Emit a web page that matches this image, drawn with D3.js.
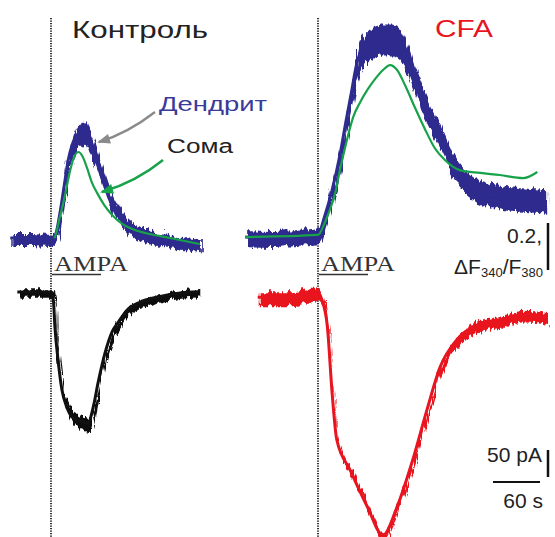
<!DOCTYPE html>
<html>
<head>
<meta charset="utf-8">
<script src="https://cdn.jsdelivr.net/npm/d3@7"></script>
<style>
  body { margin: 0; background: #fff; }
  svg { display: block; }
</style>
</head>
<body>
<div id="chart"></div>
<script>
// time: s from AMPA application; fluorescence: dF340/F380; current: pA
// noise arrays = half width of the noisy band

// Control (Контроль)
const ctrlDendT = [-52, -27, -1, 6, 11, 17, 22, 27, 33, 41, 47, 54, 60, 68, 75, 86, 98, 114, 133, 158, 190];
const ctrlDendV = [0, 0, -0.004, 0.017, 0.098, 0.226, 0.332, 0.396, 0.438, 0.451, 0.417, 0.366, 0.306, 0.226, 0.162, 0.098, 0.051, 0.021, 0, -0.013, -0.026];
const ctrlDendN = [0.026, 0.026, 0.026, 0.03, 0.034, 0.038, 0.043, 0.047, 0.05, 0.05, 0.047, 0.043, 0.04, 0.038, 0.036, 0.034, 0.03, 0.03, 0.026, 0.026, 0.026];

const ctrlSomaT = [4, 5, 11, 18, 24, 29, 35, 40, 46, 52, 59, 68, 78, 91, 107, 126, 152, 190];
const ctrlSomaV = [0, 0.004, 0.085, 0.183, 0.281, 0.34, 0.366, 0.349, 0.298, 0.238, 0.191, 0.14, 0.098, 0.06, 0.034, 0.017, 0, -0.026];

const ctrlCurT = [-43, -20, 0, 3, 5, 9, 14, 20, 27, 40, 47, 54, 60, 69, 78, 86, 97, 114, 135, 165, 188];
const ctrlCurV = [3.7, 3.7, 3.7, -11, -61, -122, -178, -209, -228, -237, -239, -209, -165, -109, -70, -52, -30, -15, -6, 2, 4];
const ctrlCurN = [7, 7, 7, 7, 8, 9, 10, 11, 12, 13, 13, 12, 10, 9, 9, 8, 8, 7, 7, 7, 7];

// CFA
const cfaDendT = [-93, -61, -29, 0, 9, 18, 28, 36, 42, 50, 57, 66, 79, 92, 102, 111, 120, 130, 143, 156, 168, 181, 194, 213, 232, 258, 290];
const cfaDendV = [0.004, 0, 0.009, 0.017, 0.098, 0.204, 0.353, 0.502, 0.608, 0.749, 0.808, 0.834, 0.851, 0.851, 0.834, 0.779, 0.694, 0.608, 0.511, 0.417, 0.332, 0.268, 0.226, 0.191, 0.179, 0.17, 0.162];
const cfaDendN = [0.034, 0.034, 0.034, 0.034, 0.036, 0.04, 0.045, 0.05, 0.058, 0.062, 0.066, 0.066, 0.066, 0.066, 0.064, 0.062, 0.058, 0.056, 0.054, 0.054, 0.052, 0.05, 0.05, 0.05, 0.05, 0.05, 0.05];

const cfaSomaT = [-93, 0, 9, 15, 22, 28, 36, 45, 54, 63, 73, 83, 92, 101, 111, 124, 137, 149, 162, 181, 207, 232, 262, 280];
const cfaSomaV = [0.004, 0.013, 0.068, 0.119, 0.191, 0.289, 0.404, 0.515, 0.579, 0.63, 0.677, 0.715, 0.736, 0.715, 0.651, 0.553, 0.46, 0.383, 0.332, 0.289, 0.277, 0.268, 0.255, 0.281];

const cfaCurT = [-77, -36, -1, 5, 12, 18, 24, 41, 63, 83, 101, 121, 139, 156, 177, 198, 232, 262, 292];
const cfaCurV = [-6, -6, 4, -11, -61, -183, -270, -326, -394, -447, -394, -307, -215, -135, -85, -61, -48, -39, -44];
const cfaCurN = [13, 13, 12, 8, 6, 6, 6, 6, 6, 6, 6, 7, 8, 9, 10, 10, 10, 10, 10];

// scale bars
const barRatio = 0.2;
const barCurrent = 50;
const barTime = 60;

const W = 555, H = 537;
const BLUE = "#2e2c8e", GREEN = "#17a24a", RED = "#e8141f", INK = "#222";

const svg = d3.select("#chart").append("svg")
  .attr("width", W)
  .attr("height", H)
  .style("font-family", "'Liberation Sans', Arial, sans-serif");

svg.append("rect").attr("width", W).attr("height", H).attr("fill", "#fff");

// jagged look for the noisy recordings
const defs = svg.append("defs");
const filt = defs.append("filter").attr("id", "jitter")
  .attr("x", "-5%").attr("y", "-30%").attr("width", "110%").attr("height", "160%");
filt.append("feTurbulence")
  .attr("type", "turbulence")
  .attr("baseFrequency", "0.22 0.015")
  .attr("numOctaves", 2)
  .attr("seed", 3)
  .attr("result", "noise");
filt.append("feDisplacementMap")
  .attr("in", "SourceGraphic")
  .attr("in2", "noise")
  .attr("scale", 8)
  .attr("xChannelSelector", "B")
  .attr("yChannelSelector", "R");

// same seconds-to-px scale in both panels, zero at each AMPA mark
const xLeft = d3.scaleLinear().domain([0, 60]).range([51, 98]);
const xRight = d3.scaleLinear().domain([0, 60]).range([318, 365]);
const yTop = d3.scaleLinear().domain([0, 0.2]).range([238, 191]);
const yBot = d3.scaleLinear().domain([0, -50]).range([294, 321]);

function zip(t, v, n) {
  return t.map((d, i) => ({ t: d, v: v[i], n: n ? n[i] : 0 }));
}

function noisy(x, y, t, v, n, color) {
  const data = zip(t, v, n);
  svg.append("path")
    .datum(data)
    .attr("filter", "url(#jitter)")
    .attr("fill", color)
    .attr("d", d3.area()
      .x(d => x(d.t))
      .y0(d => y(d.v - d.n))
      .y1(d => y(d.v + d.n))
      .curve(d3.curveMonotoneX));
  svg.append("path")
    .datum(data)
    .attr("fill", "none")
    .attr("stroke", color)
    .attr("stroke-width", 3)
    .attr("d", d3.line().x(d => x(d.t)).y(d => y(d.v)).curve(d3.curveMonotoneX));
}

function smooth(x, y, t, v, color) {
  svg.append("path")
    .datum(zip(t, v))
    .attr("fill", "none")
    .attr("stroke", color)
    .attr("stroke-width", 2.2)
    .attr("d", d3.line().x(d => x(d.t)).y(d => y(d.v)).curve(d3.curveMonotoneX));
}

// AMPA application marks
[xLeft, xRight].forEach(x => {
  svg.append("line")
    .attr("x1", x(0)).attr("x2", x(0))
    .attr("y1", 18).attr("y2", H)
    .attr("stroke", "#333")
    .attr("stroke-width", 2)
    .attr("stroke-dasharray", "1.2,1.3");
});

// traces
noisy(xLeft, yTop, ctrlDendT, ctrlDendV, ctrlDendN, BLUE);
smooth(xLeft, yTop, ctrlSomaT, ctrlSomaV, GREEN);
noisy(xLeft, yBot, ctrlCurT, ctrlCurV, ctrlCurN, "#111");

noisy(xRight, yTop, cfaDendT, cfaDendV, cfaDendN, BLUE);
smooth(xRight, yTop, cfaSomaT, cfaSomaV, GREEN);
noisy(xRight, yBot, cfaCurT, cfaCurV, cfaCurN, RED);

// titles
svg.append("text").attr("x", 72).attr("y", 38)
  .attr("font-size", 24).attr("fill", INK)
  .attr("textLength", 136).attr("lengthAdjust", "spacingAndGlyphs")
  .text("Контроль");
svg.append("text").attr("x", 435).attr("y", 37)
  .attr("font-size", 24).attr("fill", RED)
  .attr("textLength", 58).attr("lengthAdjust", "spacingAndGlyphs")
  .text("CFA");

// trace labels with arrows
svg.append("text").attr("x", 159).attr("y", 111)
  .attr("font-size", 20).attr("fill", "#3a3a9a")
  .attr("textLength", 108).attr("lengthAdjust", "spacingAndGlyphs")
  .text("Дендрит");
svg.append("text").attr("x", 167).attr("y", 153)
  .attr("font-size", 20).attr("fill", INK)
  .attr("textLength", 66).attr("lengthAdjust", "spacingAndGlyphs")
  .text("Сома");

function arrow(x1, y1, cx, cy, x2, y2, color) {
  const p = d3.path();
  p.moveTo(x1, y1);
  p.quadraticCurveTo(cx, cy, x2, y2);
  svg.append("path").attr("d", p.toString())
    .attr("fill", "none").attr("stroke", color).attr("stroke-width", 2.4);
  const a = Math.atan2(y2 - cy, x2 - cx);
  const L = 11, w = 5;
  const bx = x2 - L * Math.cos(a), by = y2 - L * Math.sin(a);
  const tip = [x2 + 2 * Math.cos(a), y2 + 2 * Math.sin(a)];
  svg.append("path")
    .attr("d", `M${tip[0]},${tip[1]}L${bx - w * Math.sin(a)},${by + w * Math.cos(a)}L${bx + w * Math.sin(a)},${by - w * Math.cos(a)}Z`)
    .attr("fill", color);
}
arrow(155, 112, 128, 133, 99, 142, "#8a8a8a");
arrow(163, 160, 136, 182, 102, 192, GREEN);

// AMPA labels
[xLeft, xRight].forEach(x => {
  svg.append("text").attr("x", x(0) + 3).attr("y", 271)
    .attr("font-family", "'Liberation Serif', 'Times New Roman', serif")
    .attr("font-size", 21).attr("fill", "#333")
    .attr("textLength", 74).attr("lengthAdjust", "spacingAndGlyphs")
    .text("AMPA");
  svg.append("line")
    .attr("x1", x(0) + 1).attr("x2", x(0) + 50)
    .attr("y1", 274.5).attr("y2", 274.5)
    .attr("stroke", "#333").attr("stroke-width", 1.3);
});

// scale bars
const barX = 548;
svg.append("line")
  .attr("x1", barX).attr("x2", barX)
  .attr("y1", 223).attr("y2", 223 + (yTop(0) - yTop(barRatio)))
  .attr("stroke", "#111").attr("stroke-width", 2.5);
svg.append("text").attr("x", 542).attr("y", 243)
  .attr("text-anchor", "end").attr("font-size", 21).attr("fill", INK)
  .text(barRatio + ",");
const lab = svg.append("text").attr("x", 543).attr("y", 274)
  .attr("text-anchor", "end").attr("font-size", 21).attr("fill", INK);
lab.append("tspan").text("ΔF");
lab.append("tspan").attr("font-size", 13).attr("dy", 3).text("340");
lab.append("tspan").attr("dy", -3).text("/F");
lab.append("tspan").attr("font-size", 13).attr("dy", 3).text("380");

svg.append("line")
  .attr("x1", barX).attr("x2", barX)
  .attr("y1", 450).attr("y2", 450 + (yBot(-barCurrent) - yBot(0)))
  .attr("stroke", "#111").attr("stroke-width", 2.5);
svg.append("text").attr("x", 542).attr("y", 462)
  .attr("text-anchor", "end").attr("font-size", 21).attr("fill", INK)
  .text(barCurrent + " pA");
svg.append("line")
  .attr("x1", 493).attr("x2", 493 + (xLeft(barTime) - xLeft(0)))
  .attr("y1", 482).attr("y2", 482)
  .attr("stroke", "#111").attr("stroke-width", 2);
svg.append("text").attr("x", 543).attr("y", 508)
  .attr("text-anchor", "end").attr("font-size", 21).attr("fill", INK)
  .text(barTime + " s");
</script>
</body>
</html>
